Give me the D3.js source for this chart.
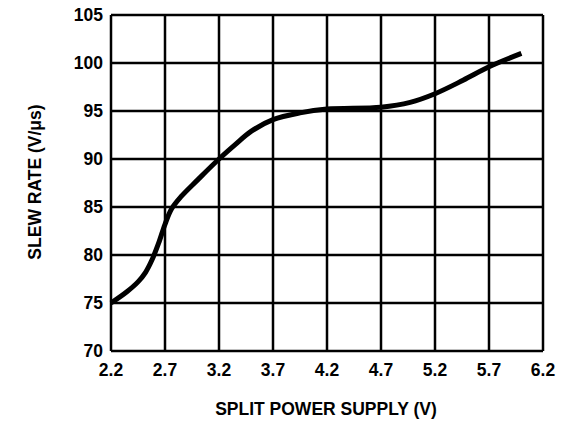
<!DOCTYPE html>
<html><head><meta charset="utf-8">
<script src="https://cdn.jsdelivr.net/npm/d3@7"></script>
<style>body{margin:0;background:#fff}svg{display:block}text{font-family:"Liberation Sans",Arial,sans-serif;font-weight:bold;fill:#000}</style>
</head><body>
<svg id="c" width="567" height="424"></svg>
<script>
const xTicks = [2.2, 2.7, 3.2, 3.7, 4.2, 4.7, 5.2, 5.7, 6.2];
const yTicks = [70, 75, 80, 85, 90, 95, 100, 105];
const supplyV = [2.2, 2.35, 2.45, 2.52, 2.58, 2.64, 2.7, 2.76, 2.85, 3.0, 3.2, 3.35, 3.5, 3.7, 3.95, 4.2, 4.7, 4.97, 5.2, 5.46, 5.7, 6.0];
const slewRate = [75.0, 76.2, 77.2, 78.2, 79.5, 81.2, 83.2, 84.8, 86.1, 87.8, 90.0, 91.5, 92.9, 94.1, 94.8, 95.2, 95.4, 95.9, 96.8, 98.2, 99.6, 101.0];

const svg = d3.select("#c");
const L = 111, R = 543, T = 15, B = 351;
const x = d3.scaleLinear().domain([2.2, 6.2]).range([L, R]);
const y = d3.scaleLinear().domain([70, 105]).range([B, T]);

const g = svg.append("g");
g.selectAll("line.v").data(xTicks).join("line")
  .attr("x1", d => x(d)).attr("x2", d => x(d)).attr("y1", T).attr("y2", B)
  .attr("stroke", "#000").attr("stroke-width", 2.5);
g.selectAll("line.h").data(yTicks).join("line")
  .attr("y1", d => y(d)).attr("y2", d => y(d)).attr("x1", L).attr("x2", R)
  .attr("stroke", "#000").attr("stroke-width", 2.5);

svg.selectAll("text.yt").data(yTicks).join("text")
  .attr("x", L - 8).attr("y", d => y(d) + 6).attr("text-anchor", "end")
  .attr("font-size", 17.5).text(d => d);
svg.selectAll("text.xt").data(xTicks).join("text")
  .attr("x", d => x(d)).attr("y", B + 25).attr("text-anchor", "middle")
  .attr("font-size", 17.5).text(d => d.toFixed(1));

svg.append("text").attr("x", 326).attr("y", 415).attr("text-anchor", "middle")
  .attr("font-size", 17.5).text("SPLIT POWER SUPPLY (V)");
svg.append("text").attr("transform", "translate(41,182) rotate(-90)").attr("text-anchor", "middle")
  .attr("font-size", 17.5).text("SLEW RATE (V/μs)");

const pts = supplyV.map((v, i) => [v, slewRate[i]]);
svg.append("path").datum(pts)
  .attr("d", d3.line().x(d => x(d[0])).y(d => y(d[1])).curve(d3.curveCatmullRom.alpha(0.5)))
  .attr("fill", "none").attr("stroke", "#000").attr("stroke-width", 5);
</script>
</body></html>
